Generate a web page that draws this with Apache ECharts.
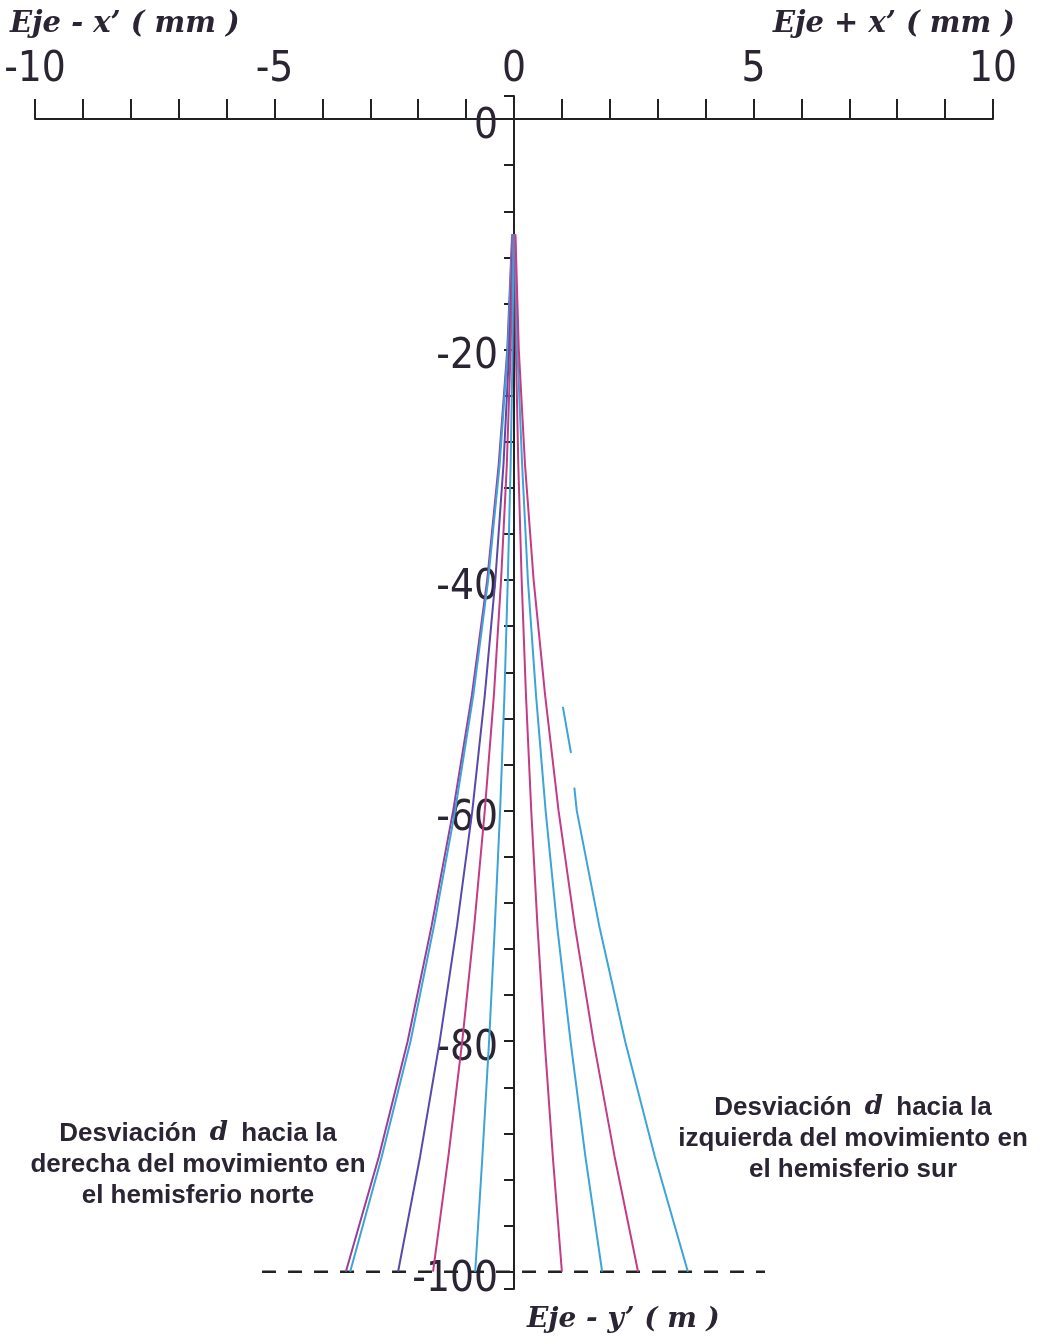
<!DOCTYPE html>
<html>
<head>
<meta charset="utf-8">
<script src="https://cdn.jsdelivr.net/npm/echarts@6/dist/echarts.min.js"></script>
<style>
  html, body { margin: 0; padding: 0; background: #ffffff; }
  #chart { width: 1045px; height: 1344px; }
</style>
</head>
<body>
<div id="chart"></div>
<script>
// Depth below the release point (m), shared by the trajectories
const depthLevels = [-10, -20, -30, -40, -50, -60, -70, -80, -90, -100];

// Lateral deflection x' (mm) of each trajectory at those depths
const leftOuterPurple = [-0.04, -0.14, -0.32, -0.56, -0.88, -1.27, -1.72, -2.22, -2.82, -3.51];
const leftOuterCyan   = [-0.03, -0.13, -0.30, -0.54, -0.85, -1.23, -1.67, -2.16, -2.76, -3.42];
const leftViolet      = [-0.02, -0.10, -0.22, -0.39, -0.61, -0.87, -1.19, -1.55, -1.96, -2.42];
const leftMagenta     = [-0.02, -0.07, -0.15, -0.27, -0.42, -0.61, -0.83, -1.08, -1.37, -1.69];
const leftInnerCyan   = [-0.01, -0.03, -0.07, -0.13, -0.20, -0.29, -0.40, -0.52, -0.66, -0.81];
const rightMagenta    = [0.01, 0.04, 0.09, 0.16, 0.25, 0.36, 0.49, 0.64, 0.81, 1.00];
const rightCyan       = [0.02, 0.07, 0.17, 0.29, 0.46, 0.66, 0.90, 1.18, 1.49, 1.84];
const rightOuterMagenta = [0.03, 0.10, 0.23, 0.41, 0.65, 0.93, 1.27, 1.66, 2.10, 2.59];

// Outer right trajectory is only traced from about -51 m, with a short break
const rightOuterCyanDepth = [-51, -55, -56, -58, -60, -70, -80, -90, -100];
const rightOuterCyanX     = [1.02, 1.19, null, 1.26, 1.31, 1.78, 2.32, 2.94, 3.63];

// Reference level drawn as a dashed line
const baseDepth = -100;
const baseSpan = [-5.26, 5.24];

// Axis ranges and tick labels
const xRange = [-10, 10];
const xTickValues = [-10, -9, -8, -7, -6, -5, -4, -3, -2, -1, 0, 1, 2, 3, 4, 5, 6, 7, 8, 9, 10];
const xLabelValues = [-10, -5, 0, 5, 10];
const yRange = [-101.5, 2];
const yTickValues = [2, 0, -4, -8, -12, -16, -20, -24, -28, -32, -36, -40, -44, -48, -52, -56, -60,
                     -64, -68, -72, -76, -80, -84, -88, -92, -96, -100, -101.5];
const yLabelValues = [0, -20, -40, -60, -80, -100];

const COLORS = {
  purple: '#9A3E9A',
  cyan: '#3DA4D8',
  violet: '#5A48AA',
  magenta: '#C43C86'
};

// Plot area in pixels
const GRID = { left: 35, top: 96, width: 958, height: 1193 };

// The two axes cross at the origin: shift each one from the grid edge to the zero line
const yAxisShift = GRID.width * (0 - xRange[0]) / (xRange[1] - xRange[0]);
const xAxisShift = GRID.height * (yRange[1] - 0) / (yRange[1] - yRange[0]);

function pairs(xs, ys) {
  return xs.map((x, i) => [x, ys[i]]);
}

function trace(name, xs, ys, color) {
  return {
    name: name,
    type: 'line',
    data: pairs(xs, ys),
    symbol: 'none',
    silent: true,
    z: 3,
    lineStyle: { color: color, width: 2 }
  };
}

const digitFont = "'Liberation Sans Narrow', 'DejaVu Sans Condensed', 'Roboto Condensed', sans-serif";
const inkColor = '#2a2433';

const chart = echarts.init(document.getElementById('chart'), null, { renderer: 'canvas' });

chart.setOption({
  animation: false,
  backgroundColor: '#ffffff',
  grid: {
    left: GRID.left, top: GRID.top, width: GRID.width, height: GRID.height,
    containLabel: false, outerBoundsMode: 'none'
  },
  xAxis: {
    type: 'value',
    position: 'top',
    offset: -xAxisShift,
    min: xRange[0],
    max: xRange[1],
    splitLine: { show: false },
    axisLine: { show: true, onZero: false, lineStyle: { color: '#222222', width: 2 } },
    axisTick: { show: true, inside: false, length: 20, customValues: xTickValues,
                lineStyle: { color: '#222222', width: 2 } },
    axisLabel: { show: true, customValues: xLabelValues, margin: 28, hideOverlap: false,
                 fontFamily: digitFont, fontSize: 42, color: inkColor }
  },
  yAxis: {
    type: 'value',
    position: 'left',
    offset: -yAxisShift,
    min: yRange[0],
    max: yRange[1],
    splitLine: { show: false },
    axisLine: { show: true, onZero: false, lineStyle: { color: '#222222', width: 2 } },
    axisTick: { show: true, inside: false, length: 10, customValues: yTickValues,
                lineStyle: { color: '#222222', width: 2 } },
    axisLabel: {
      show: true, customValues: yLabelValues, margin: 16, hideOverlap: false,
      formatter: '{v|{value}}',
      rich: { v: { fontFamily: digitFont, fontSize: 42, color: inkColor, padding: [16, 0, 0, 0] } }
    }
  },
  series: [
    {
      name: 'nivel base',
      type: 'line',
      data: [[baseSpan[0], baseDepth], [baseSpan[1], baseDepth]],
      symbol: 'none',
      silent: true,
      z: 2,
      lineStyle: { color: '#222222', width: 2.5, type: [14, 12] }
    },
    trace('izq-1', leftOuterPurple, depthLevels, COLORS.purple),
    trace('izq-2', leftOuterCyan, depthLevels, COLORS.cyan),
    trace('izq-3', leftViolet, depthLevels, COLORS.violet),
    trace('izq-4', leftMagenta, depthLevels, COLORS.magenta),
    trace('izq-5', leftInnerCyan, depthLevels, COLORS.cyan),
    trace('der-1', rightMagenta, depthLevels, COLORS.magenta),
    trace('der-2', rightCyan, depthLevels, COLORS.cyan),
    trace('der-3', rightOuterMagenta, depthLevels, COLORS.magenta),
    trace('der-4', rightOuterCyanX, rightOuterCyanDepth, COLORS.cyan)
  ],
  graphic: [
    {
      type: 'text', left: 10, top: 10,
      style: { text: 'Eje - x’ ( mm )', fill: inkColor,
               font: "italic bold 29px 'DejaVu Serif', serif" }
    },
    {
      type: 'text', right: 30, top: 10,
      style: { text: 'Eje + x’ ( mm )', fill: inkColor,
               font: "italic bold 29px 'DejaVu Serif', serif" }
    },
    {
      type: 'text', left: 527, top: 1306,
      style: { text: 'Eje - y’ ( m )', fill: inkColor,
               font: "italic bold 28px 'DejaVu Serif', serif" }
    },
    {
      type: 'text', x: 198, y: 1118,
      style: {
        text: 'Desviación {d|d} hacia la\nderecha del movimiento en\nel hemisferio norte',
        align: 'center', verticalAlign: 'top', lineHeight: 31,
        fill: inkColor,
        font: "bold 26px 'Liberation Sans', Arial, sans-serif",
        rich: { d: { font: "italic bold 26px 'DejaVu Serif', serif", fill: inkColor, padding: [0, 6, 0, 6] } }
      }
    },
    {
      type: 'text', x: 853, y: 1092,
      style: {
        text: 'Desviación {d|d} hacia la\nizquierda del movimiento en\nel hemisferio sur',
        align: 'center', verticalAlign: 'top', lineHeight: 31,
        fill: inkColor,
        font: "bold 26px 'Liberation Sans', Arial, sans-serif",
        rich: { d: { font: "italic bold 26px 'DejaVu Serif', serif", fill: inkColor, padding: [0, 6, 0, 6] } }
      }
    }
  ]
});
</script>
</body>
</html>
